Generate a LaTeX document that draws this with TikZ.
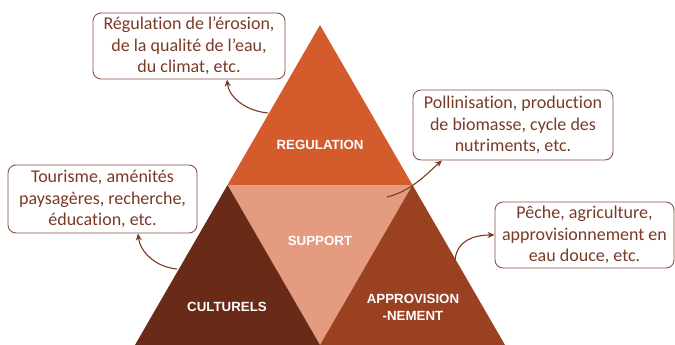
\documentclass[tikz,border=0pt]{standalone}
\usepackage{fontspec}
\setmainfont{Carlito}[Ligatures=NoCommon]
\newfontfamily\lblfont{Liberation Sans}
\usetikzlibrary{arrows.meta}
\definecolor{creg}{HTML}{D35B2C}
\definecolor{csup}{HTML}{E49B7F}
\definecolor{ccul}{HTML}{692A17}
\definecolor{capp}{HTML}{9A4122}
\definecolor{ctxt}{HTML}{7B3A28}
\definecolor{cbrd}{HTML}{8A5243}
\definecolor{carr}{HTML}{7C3A24}
\tikzset{
  infobox/.style={draw=cbrd, line width=0.9pt, rounded corners=8pt, fill=white,
    text=ctxt, align=center, inner sep=2pt,
    font=\fontsize{18}{21.5}\selectfont},
  tlabel/.style={text=white, align=center, font=\lblfont\bfseries\fontsize{13.3}{17}\selectfont},
  conn/.style={draw=carr, line width=1.1pt, -{Stealth[length=7pt,width=6pt]}}
}
\begin{document}
\begin{tikzpicture}[x=1pt,y=-1pt]
\useasboundingbox (0,0) rectangle (675,345);
% triangle corners
\coordinate (A) at (320,25);
\coordinate (L) at (227.5,185);
\coordinate (R) at (412.5,185);
\coordinate (BL) at (135,345);
\coordinate (BM) at (320,345);
\coordinate (BR) at (505,345);
\fill[creg] (A) -- (L) -- (R) -- cycle;
\fill[csup] (L) -- (R) -- (BM) -- cycle;
\fill[ccul] (L) -- (BL) -- (BM) -- cycle;
\fill[capp] (R) -- (BM) -- (BR) -- cycle;
% labels
\node[tlabel] (treg) at (320,145) {REGULATION};
\node[tlabel] (tsup) at (320,241) {SUPPORT};
\node[tlabel] (tcul) at (227,307) {CULTURELS};
\node[tlabel] (tapp) at (413,307.5) {APPROVISION\\-NEMENT};
% boxes
\node[infobox, minimum width=192pt, minimum height=66pt] (b1) at (189,46) {Régulation de l’érosion,\\de la qualité de l’eau,\\du climat, etc.};
\node[infobox, minimum width=200pt, minimum height=70pt] (b2) at (513,125) {Pollinisation, production\\de biomasse, cycle des\\nutriments, etc.};
\node[infobox, minimum width=189pt, minimum height=68pt] (b3) at (102.5,199) {Tourisme, aménités\\paysagères, recherche,\\éducation, etc.};
\node[infobox, minimum width=179pt, minimum height=66pt] (b4) at (584.5,235) {Pêche, agriculture,\\approvisionnement en\\eau douce, etc.};
% connector starts
\coordinate (s1) at (268,113);
\coordinate (s2) at (387,197);
\coordinate (s3) at (177,269);
\coordinate (s4) at (455,260);
\draw[conn] (s1) .. controls +(-22,-2) and +(2,18) .. ([xshift=38pt]b1.south);
\draw[conn] (s2) .. controls +(25,-6) and +(-14,12) .. ([xshift=-71pt]b2.south);
\draw[conn] (s3) .. controls +(-22,-2) and +(2,18) .. ([xshift=35.5pt]b3.south);
\draw[conn] (s4) .. controls +(2,-20) and +(-20,0) .. (b4.west);
\end{tikzpicture}
\end{document}
